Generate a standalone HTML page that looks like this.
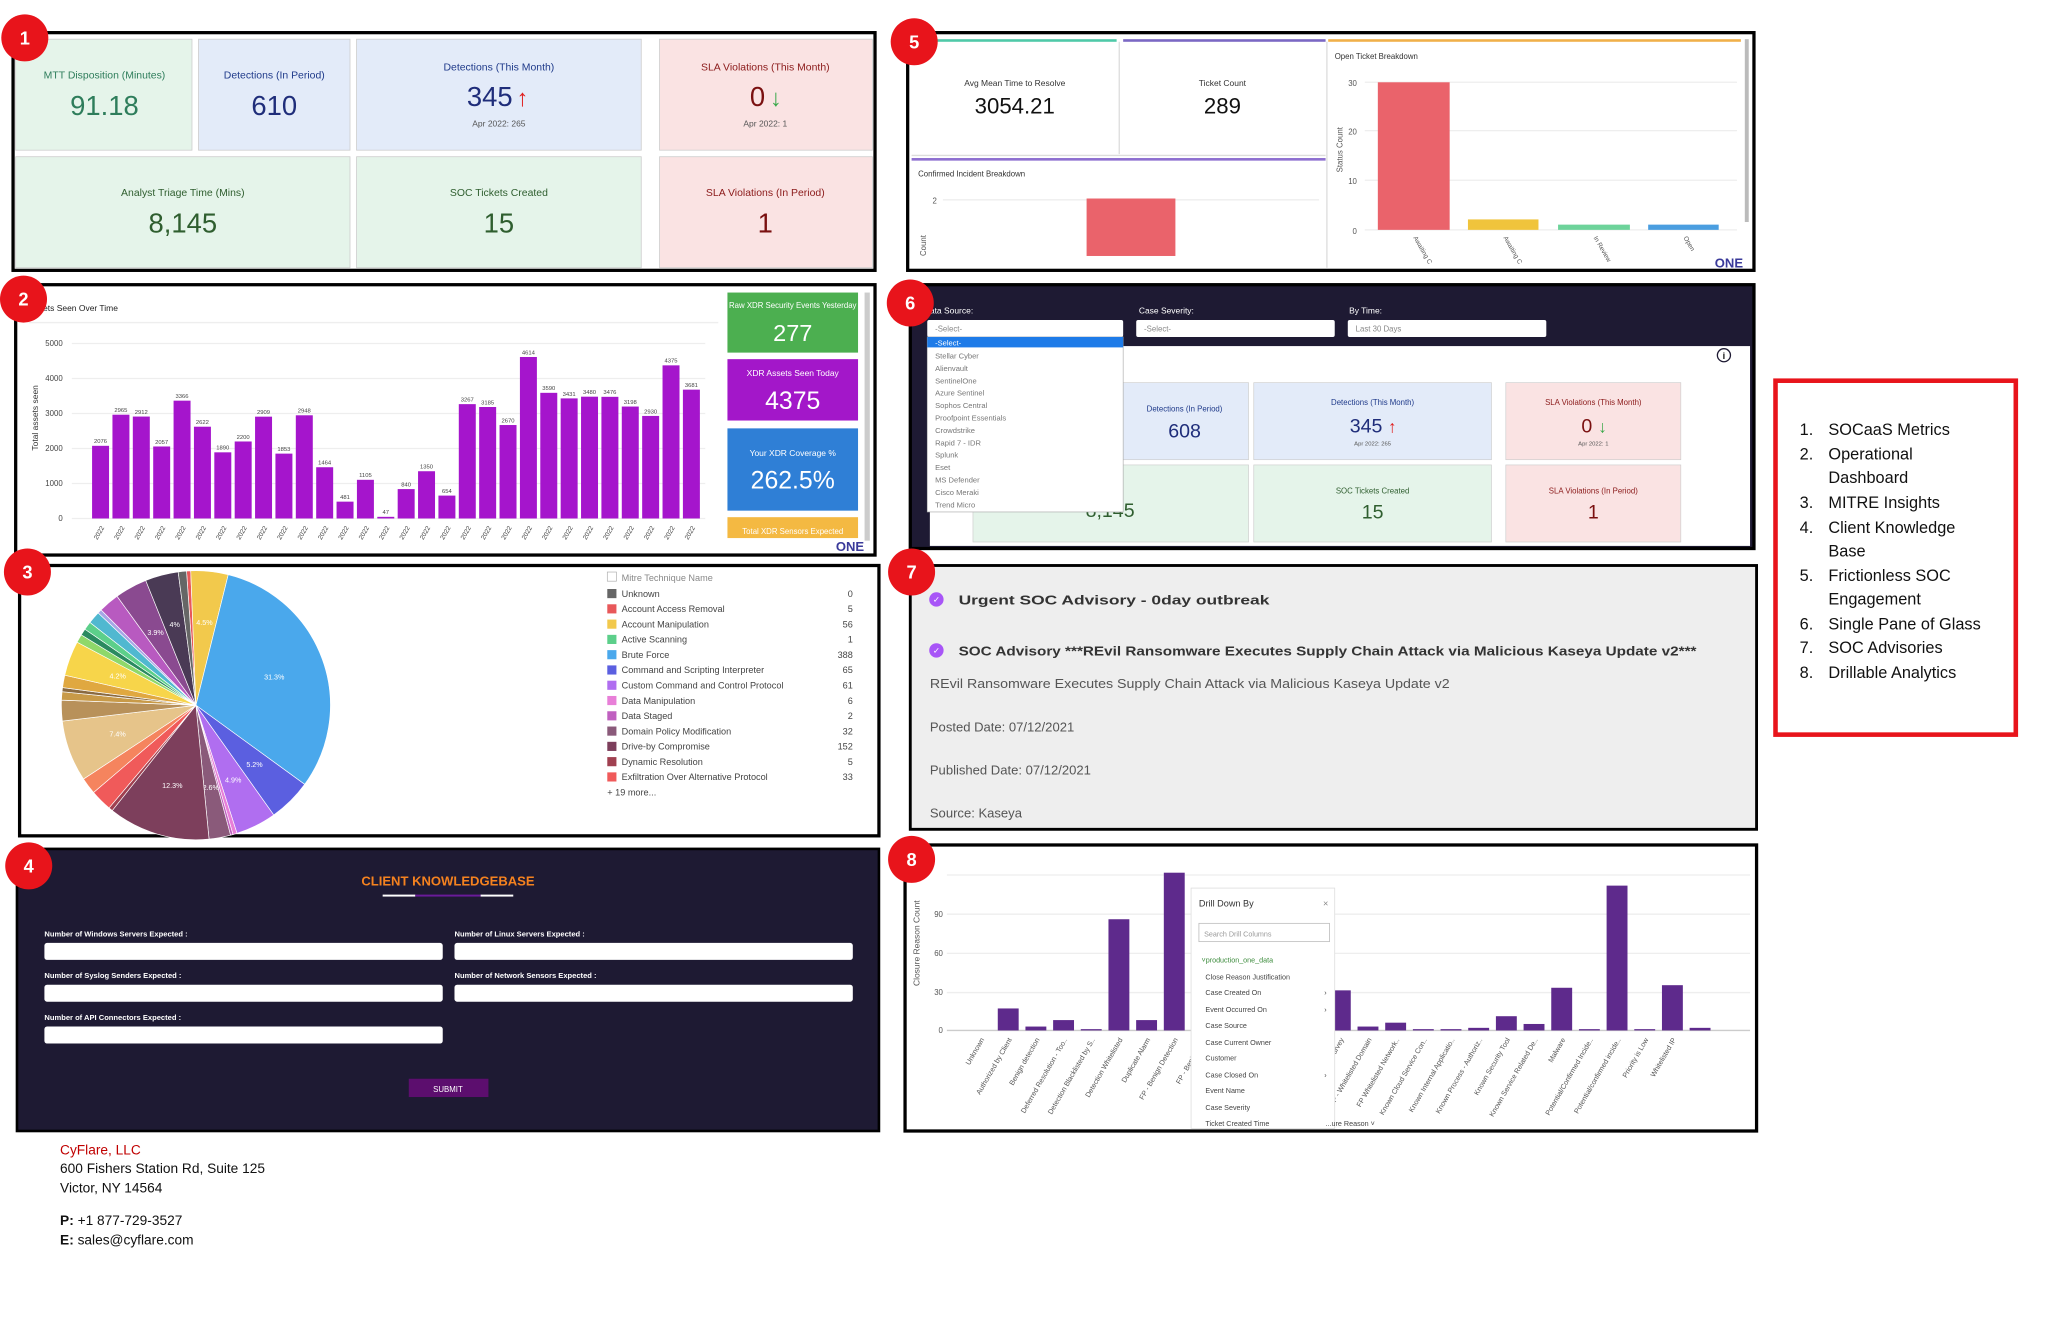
<!DOCTYPE html>
<html><head><meta charset="utf-8">
<style>
html,body{margin:0;padding:0;background:#fff;width:2048px;height:1325px;overflow:hidden}
svg{display:block}
text{font-family:"Liberation Sans",sans-serif}
</style></head>
<body>
<svg id="s" width="2048" height="1325" viewBox="0 0 2048 1325" xmlns="http://www.w3.org/2000/svg">
<g id="g" transform="scale(1.306)">
<!-- PANEL 1 -->
<rect x="10" y="25" width="660" height="182" fill="#fff" stroke="#000" stroke-width="2.5"/>
<rect x="12" y="30" width="135" height="85" fill="#e5f4ea" stroke="#ccc" stroke-width=".6"/>
<rect x="152" y="30" width="116" height="85" fill="#e3ebf9" stroke="#ccc" stroke-width=".6"/>
<rect x="273" y="30" width="218" height="85" fill="#e3ebf9" stroke="#ccc" stroke-width=".6"/>
<rect x="505" y="30" width="163" height="85" fill="#fae3e3" stroke="#ccc" stroke-width=".6"/>
<rect x="12" y="120" width="256" height="85" fill="#e5f4ea" stroke="#ccc" stroke-width=".6"/>
<rect x="273" y="120" width="218" height="85" fill="#e5f4ea" stroke="#ccc" stroke-width=".6"/>
<rect x="505" y="120" width="163" height="85" fill="#fae3e3" stroke="#ccc" stroke-width=".6"/>
<g text-anchor="middle">
<text x="80" y="60" font-size="8" fill="#2e7d5b">MTT Disposition (Minutes)</text>
<text x="80" y="88" font-size="21" fill="#2e7d5b">91.18</text>
<text x="210" y="60" font-size="8" fill="#1f3a8a">Detections (In Period)</text>
<text x="210" y="88" font-size="21" fill="#1f2d7a">610</text>
<text x="382" y="54" font-size="8" fill="#1f3a8a">Detections (This Month)</text>
<text x="375" y="81" font-size="21" fill="#1f2d7a">345</text>
<text x="400" y="81" font-size="18" fill="#e02020">↑</text>
<text x="382" y="97" font-size="6.5" fill="#555">Apr 2022: 265</text>
<text x="586" y="54" font-size="8" fill="#8b1a1a">SLA Violations (This Month)</text>
<text x="580" y="81" font-size="21" fill="#7a1010">0</text>
<text x="594" y="81" font-size="18" fill="#3aa84a">↓</text>
<text x="586" y="97" font-size="6.5" fill="#555">Apr 2022: 1</text>
<text x="140" y="150" font-size="8" fill="#2f5e2f">Analyst Triage Time (Mins)</text>
<text x="140" y="178" font-size="21" fill="#2f5e2f">8,145</text>
<text x="382" y="150" font-size="8" fill="#2f5e2f">SOC Tickets Created</text>
<text x="382" y="178" font-size="21" fill="#2f5e2f">15</text>
<text x="586" y="150" font-size="8" fill="#8b1a1a">SLA Violations (In Period)</text>
<text x="586" y="178" font-size="21" fill="#7a1010">1</text>
</g>
<!-- PANEL 2 -->
<rect x="12" y="218" width="658" height="207" fill="#fff" stroke="#000" stroke-width="2.5"/>
<text x="33" y="238" font-size="6.5" fill="#222">ets Seen Over Time</text>
<line x1="22" y1="247" x2="550" y2="247" stroke="#eee"/>
<g id="p2" font-size="6" fill="#444"></g>
<text transform="translate(29,345) rotate(-90)" font-size="6.5" fill="#333">Total assets seen</text>
<rect x="557" y="224" width="100" height="46" fill="#4caf50"/>
<rect x="557" y="275" width="100" height="47" fill="#a317c9"/>
<rect x="557" y="328" width="100" height="63" fill="#2f7fd6"/>
<rect x="557" y="396" width="100" height="16" fill="#f4b942"/>
<rect x="662" y="224" width="4" height="190" fill="#ccc"/>
<g text-anchor="middle" fill="#fff">
<text x="607" y="236" font-size="6">Raw XDR Security Events Yesterday</text>
<text x="607" y="261" font-size="18">277</text>
<text x="607" y="288" font-size="6.5">XDR Assets Seen Today</text>
<text x="607" y="313" font-size="19">4375</text>
<text x="607" y="349" font-size="6.5">Your XDR Coverage %</text>
<text x="607" y="374" font-size="19">262.5%</text>
<text x="607" y="409" font-size="6">Total XDR Sensors Expected</text>
</g>
<text x="640" y="422" font-size="10" font-weight="bold" fill="#3a3a9a">ONE</text>
<!-- PANEL 3 -->
<rect x="15" y="433" width="658" height="207" fill="#fff" stroke="#000" stroke-width="2.5"/>
<g id="pie"></g>
<g id="leg" font-size="7" fill="#444"></g>
<!-- PANEL 4 -->
<rect x="13" y="650" width="660" height="216" fill="#1e1a33" stroke="#000" stroke-width="2"/>
<text x="343" y="678" text-anchor="middle" font-size="10" font-weight="bold" fill="#f5821f">CLIENT KNOWLEDGEBASE</text>
<rect x="293" y="685" width="25" height="1.5" fill="#fff"/><rect x="318" y="685" width="50" height="1.5" fill="#6a1b9a"/><rect x="368" y="685" width="25" height="1.5" fill="#fff"/>
<g font-size="5.8" font-weight="bold" fill="#fff">
<text x="34" y="717">Number of Windows Servers Expected :</text>
<text x="348" y="717">Number of Linux Servers Expected :</text>
<text x="34" y="749">Number of Syslog Senders Expected :</text>
<text x="348" y="749">Number of Network Sensors Expected :</text>
<text x="34" y="781">Number of API Connectors Expected :</text>
</g>
<g fill="#fff">
<rect x="34" y="722" width="305" height="13" rx="2"/><rect x="348" y="722" width="305" height="13" rx="2"/>
<rect x="34" y="754" width="305" height="13" rx="2"/><rect x="348" y="754" width="305" height="13" rx="2"/>
<rect x="34" y="786" width="305" height="13" rx="2"/>
</g>
<rect x="313" y="826" width="61" height="14" fill="#5c0e6e"/>
<text x="343" y="836" text-anchor="middle" font-size="6" fill="#fff">SUBMIT</text>
<!-- footer -->
<g font-size="10.5" fill="#111">
<text x="46" y="884" fill="#c00000">CyFlare, LLC</text>
<text x="46" y="898">600 Fishers Station Rd, Suite 125</text>
<text x="46" y="913">Victor, NY 14564</text>
<text x="46" y="938"><tspan font-weight="bold">P:</tspan> +1 877-729-3527</text>
<text x="46" y="953"><tspan font-weight="bold">E:</tspan> sales@cyflare.com</text>
</g>
<!-- PANEL 5 -->
<rect x="695" y="25" width="648" height="182" fill="#fff" stroke="#000" stroke-width="2.5"/>
<rect x="698" y="30" width="157" height="2" fill="#4fc9a8"/>
<rect x="860" y="30" width="155" height="2" fill="#7b68c4"/>
<rect x="1017" y="30" width="316" height="2" fill="#f0b04a"/>
<rect x="698" y="121" width="317" height="2" fill="#8e6fd0"/>
<line x1="857" y1="32" x2="857" y2="118" stroke="#ddd"/>
<line x1="1016" y1="32" x2="1016" y2="205" stroke="#ddd"/>
<line x1="698" y1="119" x2="1015" y2="119" stroke="#ddd"/>
<g text-anchor="middle">
<text x="777" y="66" font-size="6.5" fill="#333">Avg Mean Time to Resolve</text>
<text x="777" y="87" font-size="17" fill="#111">3054.21</text>
<text x="936" y="66" font-size="6.5" fill="#333">Ticket Count</text>
<text x="936" y="87" font-size="17" fill="#111">289</text>
</g>
<text x="703" y="135" font-size="6" fill="#333">Confirmed Incident Breakdown</text>
<line x1="722" y1="153" x2="1010" y2="153" stroke="#eee"/>
<text x="714" y="156" font-size="6" fill="#555">2</text>
<rect x="832" y="152" width="68" height="44" fill="#ea636b"/>
<text transform="translate(709,196) rotate(-90)" font-size="6" fill="#555">Count</text>
<text x="1022" y="45" font-size="6" fill="#333">Open Ticket Breakdown</text>
<g font-size="6" fill="#555" text-anchor="end">
<text x="1039" y="66">30</text><text x="1039" y="103">20</text><text x="1039" y="141">10</text><text x="1039" y="179">0</text>
</g>
<g stroke="#eee"><line x1="1045" y1="63" x2="1330" y2="63"/><line x1="1045" y1="100" x2="1330" y2="100"/><line x1="1045" y1="138" x2="1330" y2="138"/><line x1="1045" y1="176" x2="1330" y2="176"/></g>
<text transform="translate(1028,132) rotate(-90)" font-size="6" fill="#555">Status Count</text>
<rect x="1055" y="63" width="55" height="113" fill="#ea636b"/>
<rect x="1124" y="168" width="54" height="8" fill="#f0c43c"/>
<rect x="1193" y="172" width="55" height="4" fill="#6dd39a"/>
<rect x="1262" y="172" width="54" height="4" fill="#4a9ee0"/>
<g font-size="5" fill="#555">
<text transform="translate(1082,182) rotate(60)">Awaiting C</text>
<text transform="translate(1151,182) rotate(60)">Awaiting C</text>
<text transform="translate(1220,182) rotate(60)">In Review</text>
<text transform="translate(1289,182) rotate(60)">Open</text>
</g>
<rect x="1336" y="30" width="3" height="140" fill="#bbb"/>
<text x="1313" y="205" font-size="10" font-weight="bold" fill="#3a3a9a">ONE</text>
<!-- PANEL 6 -->
<rect x="697" y="218" width="646" height="202" fill="#1e1a33" stroke="#000" stroke-width="2.5"/>
<rect x="712" y="265" width="628" height="153" fill="#fff"/>
<circle cx="1320" cy="272" r="5" fill="#fff" stroke="#1e1a33"/><text x="1320" y="275" text-anchor="middle" font-size="7" font-weight="bold" fill="#111">i</text>
<g font-size="6.5" fill="#fff"><text x="712" y="240">ata Source:</text><text x="872" y="240">Case Severity:</text><text x="1033" y="240">By Time:</text></g>
<rect x="710" y="245" width="150" height="13" rx="1.5" fill="#fff"/>
<rect x="870" y="245" width="152" height="13" rx="1.5" fill="#fff"/>
<rect x="1032" y="245" width="152" height="13" rx="1.5" fill="#fff"/>
<g font-size="6" fill="#888"><text x="716" y="254">-Select-</text><text x="876" y="254">-Select-</text><text x="1038" y="254">Last 30 Days</text></g>
<rect x="745" y="293" width="111" height="59" fill="#e3ebf9" stroke="#ccc" stroke-width=".5"/>
<rect x="858" y="293" width="98" height="59" fill="#e3ebf9" stroke="#ccc" stroke-width=".5"/>
<rect x="960" y="293" width="182" height="59" fill="#e3ebf9" stroke="#ccc" stroke-width=".5"/>
<rect x="1153" y="293" width="134" height="59" fill="#fae3e3" stroke="#ccc" stroke-width=".5"/>
<rect x="745" y="356" width="211" height="59" fill="#e5f4ea" stroke="#ccc" stroke-width=".5"/>
<rect x="960" y="356" width="182" height="59" fill="#e5f4ea" stroke="#ccc" stroke-width=".5"/>
<rect x="1153" y="356" width="134" height="59" fill="#fae3e3" stroke="#ccc" stroke-width=".5"/>
<g text-anchor="middle">
<text x="907" y="315" font-size="6" fill="#1f3a8a">Detections (In Period)</text>
<text x="907" y="335" font-size="15" fill="#1f2d7a">608</text>
<text x="1051" y="310" font-size="6" fill="#1f3a8a">Detections (This Month)</text>
<text x="1046" y="331" font-size="15" fill="#1f2d7a">345</text>
<text x="1066" y="331" font-size="13" fill="#e02020">↑</text>
<text x="1051" y="341" font-size="4.5" fill="#555">Apr 2022: 265</text>
<text x="1220" y="310" font-size="6" fill="#8b1a1a">SLA Violations (This Month)</text>
<text x="1215" y="331" font-size="15" fill="#7a1010">0</text>
<text x="1227" y="331" font-size="13" fill="#3aa84a">↓</text>
<text x="1220" y="341" font-size="4.5" fill="#555">Apr 2022: 1</text>
<text x="850" y="396" font-size="15" fill="#2f5e2f">8,145</text>
<text x="1051" y="378" font-size="6" fill="#2f5e2f">SOC Tickets Created</text>
<text x="1051" y="397" font-size="15" fill="#2f5e2f">15</text>
<text x="1220" y="378" font-size="6" fill="#8b1a1a">SLA Violations (In Period)</text>
<text x="1220" y="397" font-size="15" fill="#7a1010">1</text>
</g>
<rect x="710" y="258" width="150" height="134" fill="#fff" stroke="#aaa" stroke-width=".5"/>
<rect x="710" y="258" width="150" height="8" fill="#1e7be8"/>
<g font-size="5.8" fill="#777">
<text x="716" y="264.5" fill="#fff">-Select-</text>
<text x="716" y="274.5">Stellar Cyber</text><text x="716" y="284">Alienvault</text><text x="716" y="293.5">SentinelOne</text>
<text x="716" y="303">Azure Sentinel</text><text x="716" y="312.5">Sophos Central</text><text x="716" y="322">Proofpoint Essentials</text>
<text x="716" y="331.5">Crowdstrike</text><text x="716" y="341">Rapid 7 - IDR</text><text x="716" y="350.5">Splunk</text>
<text x="716" y="360">Eset</text><text x="716" y="369.5">MS Defender</text><text x="716" y="379">Cisco Meraki</text><text x="716" y="388.5">Trend Micro</text>
</g>
<!-- PANEL 7 -->
<rect x="697" y="433" width="648" height="202" fill="#eeeeee" stroke="#000" stroke-width="2.2"/>
<circle cx="717" cy="459" r="5.5" fill="#a855f7"/><text x="717" y="461.5" text-anchor="middle" font-size="6.5" fill="#fff">✓</text>
<circle cx="717" cy="498" r="5.5" fill="#a855f7"/><text x="717" y="500.5" text-anchor="middle" font-size="6.5" fill="#fff">✓</text>
<text x="734" y="463" font-size="10" font-weight="bold" fill="#333" textLength="238" lengthAdjust="spacingAndGlyphs">Urgent SOC Advisory - 0day outbreak</text>
<text x="734" y="502" font-size="10" font-weight="bold" fill="#333" textLength="565" lengthAdjust="spacingAndGlyphs">SOC Advisory ***REvil Ransomware Executes Supply Chain Attack via Malicious Kaseya Update v2***</text>
<g font-size="10" fill="#555">
<text x="712" y="527" textLength="398" lengthAdjust="spacingAndGlyphs">REvil Ransomware Executes Supply Chain Attack via Malicious Kaseya Update v2</text>
<text x="712" y="560">Posted Date: 07/12/2021</text>
<text x="712" y="593">Published Date: 07/12/2021</text>
<text x="712" y="626">Source: Kaseya</text>
</g>
<!-- PANEL 8 -->
<rect x="693" y="647" width="652" height="219" fill="#fff" stroke="#000" stroke-width="2.5"/>
<g stroke="#eee"><line x1="725" y1="670" x2="1340" y2="670"/><line x1="725" y1="700" x2="1340" y2="700"/><line x1="725" y1="730" x2="1340" y2="730"/><line x1="725" y1="760" x2="1340" y2="760"/><line x1="725" y1="789" x2="1340" y2="789" stroke="#ccc"/></g>
<g font-size="6" fill="#555" text-anchor="end"><text x="722" y="702">90</text><text x="722" y="732">60</text><text x="722" y="762">30</text><text x="722" y="791">0</text></g>
<text transform="translate(704,755) rotate(-90)" font-size="6.5" fill="#555">Closure Reason Count</text>
<g id="p8" font-size="5.5" fill="#555"></g>
<rect x="912" y="680" width="110" height="184" fill="#fff" stroke="#ddd" stroke-width=".6"/>
<text x="918" y="694" font-size="7" fill="#333">Drill Down By</text><text x="1013" y="694" font-size="7" fill="#888">×</text>
<rect x="918" y="707" width="100" height="14" fill="#fff" stroke="#bbb" stroke-width=".6"/>
<text x="922" y="717" font-size="5.5" fill="#999">Search Drill Columns</text>
<text x="920" y="737" font-size="5.5" fill="#3a8a3a">˅production_one_data</text>
<g font-size="5.5" fill="#444">
<text x="923" y="750">Close Reason Justification</text><text x="923" y="762">Case Created On</text><text x="923" y="775">Event Occurred On</text>
<text x="923" y="787">Case Source</text><text x="923" y="800">Case Current Owner</text><text x="923" y="812">Customer</text>
<text x="923" y="825">Case Closed On</text><text x="923" y="837">Event Name</text><text x="923" y="850">Case Severity</text><text x="923" y="862">Ticket Created Time</text>
<text x="1014" y="762">›</text><text x="1014" y="775">›</text><text x="1014" y="825">›</text>
<text x="1015" y="862">...ure Reason ˅</text>
</g>
<!-- red legend box -->
<rect x="1359.5" y="291.5" width="184" height="271" fill="#fff" stroke="#e8141b" stroke-width="3.5"/>
<g font-size="12.5" fill="#111">
<text x="1378" y="333">1.</text><text x="1400" y="333">SOCaaS Metrics</text>
<text x="1378" y="352">2.</text><text x="1400" y="352">Operational</text><text x="1400" y="370">Dashboard</text>
<text x="1378" y="389">3.</text><text x="1400" y="389">MITRE Insights</text>
<text x="1378" y="408">4.</text><text x="1400" y="408">Client Knowledge</text><text x="1400" y="426">Base</text>
<text x="1378" y="445">5.</text><text x="1400" y="445">Frictionless SOC</text><text x="1400" y="463">Engagement</text>
<text x="1378" y="482">6.</text><text x="1400" y="482">Single Pane of Glass</text>
<text x="1378" y="500">7.</text><text x="1400" y="500">SOC Advisories</text>
<text x="1378" y="519">8.</text><text x="1400" y="519">Drillable Analytics</text>
</g>
<!-- number circles -->
<g font-size="14" font-weight="bold" fill="#fff" text-anchor="middle">
<circle cx="19" cy="29" r="18" fill="#e8141b"/><text x="19" y="34">1</text>
<circle cx="18" cy="229" r="18" fill="#e8141b"/><text x="18" y="234">2</text>
<circle cx="21" cy="438" r="18" fill="#e8141b"/><text x="21" y="443">3</text>
<circle cx="22" cy="663" r="18" fill="#e8141b"/><text x="22" y="668">4</text>
<circle cx="700" cy="32" r="18" fill="#e8141b"/><text x="700" y="37">5</text>
<circle cx="697" cy="232" r="18" fill="#e8141b"/><text x="697" y="237">6</text>
<circle cx="698" cy="438" r="18" fill="#e8141b"/><text x="698" y="443">7</text>
<circle cx="698" cy="658" r="18" fill="#e8141b"/><text x="698" y="663">8</text>
</g>
</g>
</svg>
<script>
var NS="http://www.w3.org/2000/svg";
function el(p,t,a,txt){var e=document.createElementNS(NS,t);for(var k in a)e.setAttribute(k,a[k]);if(txt!=null)e.textContent=txt;p.appendChild(e);return e;}
var p2=document.getElementById("p2");
var d2=[2076,2965,2912,2057,3366,2622,1890,2200,2909,1853,2948,1464,481,1105,47,840,1350,654,3267,3185,2670,4614,3590,3431,3480,3476,3198,2930,4375,3681];
for(var i=0;i<=5;i++){var y=397-i*26.8;el(p2,"line",{x1:55,y1:y,x2:540,y2:y,stroke:"#eee"});el(p2,"text",{x:48,y:y+2,"text-anchor":"end"},String(i*1000));}
for(var i=0;i<d2.length;i++){var cx=77+i*15.6,h=d2[i]*134/5000;el(p2,"rect",{x:cx-6.5,y:397-h,width:13,height:h,fill:"#a515cc"});
el(p2,"text",{x:cx,y:395-h,"text-anchor":"middle","font-size":"4.5"},String(d2[i]));
el(p2,"text",{transform:"translate("+(cx+3)+",404) rotate(-60)","text-anchor":"end","font-size":"5"},"2022");}
var pie=document.getElementById("pie");
var sl=[[0.5,"#e8585a"],[4.5,"#f2c94c"],[31.3,"#4aa8ec"],[5.2,"#5b5fe0"],[4.9,"#b06ef0"],[0.5,"#e87fd8"],[0.3,"#c060c0"],[2.6,"#8a5a7a"],[12.3,"#7d3f5c"],[0.5,"#a04050"],[2.6,"#f05a5a"],[2,"#f5845e"],[7.4,"#e6c48a"],[2.5,"#b8915a"],[1,"#c89a48"],[0.5,"#8a6a40"],[1.5,"#e0a840"],[4.2,"#f7d54a"],[1,"#8ed86a"],[0.8,"#2a8a60"],[1,"#5ccf8a"],[1.5,"#50b8d0"],[0.5,"#a6a6e6"],[2.5,"#b85ac0"],[3.9,"#8a4a90"],[4,"#4a3a55"],[1,"#666"]];
var tot=0;sl.forEach(function(s){tot+=s[0]});
var cx=150,cy=540,r=103,a=-4*Math.PI/180;
var lbl={"4.5":"4.5%","31.3":"31.3%","5.2":"5.2%","4.9":"4.9%","2.6":"2.6%","12.3":"12.3%","7.4":"7.4%","4.2":"4.2%","3.9":"3.9%","4":"4%"};
sl.forEach(function(s,idx){var da=s[0]/tot*2*Math.PI,b=a+da;
var x1=cx+r*Math.sin(a),y1=cy-r*Math.cos(a),x2=cx+r*Math.sin(b),y2=cy-r*Math.cos(b);
el(pie,"path",{d:"M"+cx+","+cy+"L"+x1+","+y1+"A"+r+","+r+" 0 "+(da>Math.PI?1:0)+",1 "+x2+","+y2+"Z",fill:s[1],stroke:"#fff","stroke-width":"0.5"});
var k=String(s[0]);if(lbl[k]&&!(k=="2.6"&&idx==10)){var m=(a+b)/2,rr=r*0.62;el(pie,"text",{x:cx+rr*Math.sin(m),y:cy-rr*Math.cos(m)+2,"text-anchor":"middle","font-size":"5.5",fill:"#fff"},lbl[k]);}
a=b;});
var leg=document.getElementById("leg");
el(leg,"rect",{x:465,y:438,width:7,height:7,fill:"#fff",stroke:"#aaa","stroke-width":".5"});
el(leg,"text",{x:476,y:445,fill:"#888"},"Mitre Technique Name");
var L=[["Unknown","0","#666"],["Account Access Removal","5","#e8585a"],["Account Manipulation","56","#f2c94c"],["Active Scanning","1","#5ccf8a"],["Brute Force","388","#4aa8ec"],["Command and Scripting Interpreter","65","#5b5fe0"],["Custom Command and Control Protocol","61","#b06ef0"],["Data Manipulation","6","#e87fd8"],["Data Staged","2","#c060c0"],["Domain Policy Modification","32","#8a5a7a"],["Drive-by Compromise","152","#7d3f5c"],["Dynamic Resolution","5","#a04050"],["Exfiltration Over Alternative Protocol","33","#f05a5a"]];
L.forEach(function(l,i){var y=457+i*11.7;el(leg,"rect",{x:465,y:y-6,width:7,height:7,fill:l[2]});el(leg,"text",{x:476,y:y},l[0]);el(leg,"text",{x:653,y:y,"text-anchor":"end"},l[1]);});
el(leg,"text",{x:465,y:609},"+ 19 more...");
var p8=document.getElementById("p8");
var v8=[0,17,3,8,1,86,8,122,0,0,0,0,0,31,3,6,1,1,2,11,5,33,1,112,1,35,2];
var n8=["Unknown","Authorized by Client","Benign detection","Deferred Resolution - Too..","Detection Blacklisted by S..","Detection Whitelisted","Duplicate Alarm","FP - Benign Detection","FP - Benign Th..","FP - E..","","","","...ist SOC Survey","FP - Whitelisted Domain","FP Whitelisted Network..","Known Cloud Service Con..","Known Internal Applicatio..","Known Process - Authoriz..","Known Security Tool","Known Service Related De..","Malware","Potential/Confirmed Incide..","Potential/confirmed incide..","Priority is Low","Whitelisted IP"];
for(var i=0;i<v8.length;i++){var cx=750.8+i*21.19,h=Math.min(v8[i]*0.99,124);if(h>0)el(p8,"rect",{x:cx-8,y:789-h,width:16,height:h,fill:"#5e2a8c"});
if(n8[i])el(p8,"text",{transform:"translate("+(cx+3)+",796) rotate(-60)","text-anchor":"end"},n8[i]);}
</script>
</body></html>
